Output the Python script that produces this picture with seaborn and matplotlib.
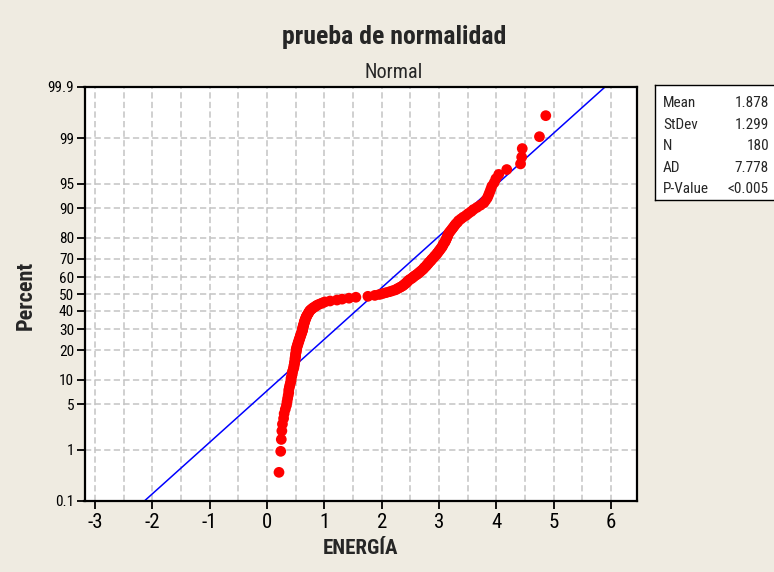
import math
import numpy as np
import pandas as pd
import matplotlib
matplotlib.use("Agg")
import matplotlib.pyplot as plt
from matplotlib import font_manager as fm
from matplotlib.ticker import FixedLocator, FixedFormatter, MultipleLocator
import seaborn as sns

# ENERGÍA sample, sorted (n = 180)
energia = [
    0.21, 0.24, 0.25, 0.26, 0.27, 0.29, 0.30, 0.32, 0.34, 0.35,
    0.36, 0.37, 0.38, 0.38, 0.39, 0.40, 0.41, 0.42, 0.42, 0.43,
    0.44, 0.44, 0.45, 0.46, 0.47, 0.47, 0.48, 0.48, 0.49, 0.49,
    0.49, 0.50, 0.50, 0.50, 0.51, 0.51, 0.51, 0.52, 0.52, 0.53,
    0.54, 0.54, 0.55, 0.56, 0.56, 0.57, 0.58, 0.58, 0.59, 0.60,
    0.60, 0.61, 0.62, 0.62, 0.62, 0.63, 0.63, 0.64, 0.64, 0.65,
    0.65, 0.66, 0.66, 0.67, 0.68, 0.68, 0.69, 0.70, 0.71, 0.72,
    0.73, 0.74, 0.75, 0.77, 0.79, 0.81, 0.84, 0.86, 0.89, 0.93,
    0.97, 1.01, 1.10, 1.22, 1.31, 1.43, 1.55, 1.76, 1.88, 1.96,
    2.02, 2.08, 2.14, 2.19, 2.24, 2.27, 2.30, 2.33, 2.36, 2.38,
    2.40, 2.42, 2.44, 2.45, 2.47, 2.49, 2.52, 2.54, 2.56, 2.58,
    2.61, 2.63, 2.65, 2.67, 2.69, 2.71, 2.73, 2.74, 2.76, 2.78,
    2.79, 2.81, 2.82, 2.84, 2.86, 2.87, 2.89, 2.91, 2.92, 2.94,
    2.96, 2.97, 2.99, 3.00, 3.02, 3.03, 3.05, 3.06, 3.07, 3.08,
    3.10, 3.11, 3.12, 3.13, 3.14, 3.15, 3.16, 3.17, 3.19, 3.21,
    3.23, 3.25, 3.27, 3.29, 3.32, 3.34, 3.38, 3.42, 3.47, 3.51,
    3.56, 3.60, 3.66, 3.72, 3.78, 3.81, 3.84, 3.86, 3.88, 3.90,
    3.92, 3.96, 3.99, 4.04, 4.18, 4.42, 4.44, 4.45, 4.75, 4.86,
]

# Fitted normal distribution and summary table
fit_mean = 1.878
fit_stdev = 1.299
stat_names = ["Mean", "StDev", "N", "AD", "P-Value"]
stat_values = ["1.878", "1.299", "180", "7.778", "<0.005"]

x_ticks = [-3, -2, -1, 0, 1, 2, 3, 4, 5, 6]
pct_ticks = [0.1, 1, 5, 10, 20, 30, 40, 50, 60, 70, 80, 90, 95, 99, 99.9]
pct_labels = ["0.1", "1", "5", "10", "20", "30", "40", "50", "60", "70",
              "80", "90", "95", "99", "99.9"]

title_text = "prueba de normalidad"
subtitle_text = "Normal"
x_label = "ENERGÍA"
y_label = "Percent"


# ---- normal probability scale -------------------------------------------
_A = [-3.969683028665376e+01, 2.209460984245205e+02, -2.759285104469687e+02,
      1.383577518672690e+02, -3.066479806614716e+01, 2.506628277459239e+00]
_B = [-5.447609879822406e+01, 1.615858368580409e+02, -1.556989798598866e+02,
      6.680131188771972e+01, -1.328068155288572e+01]
_C = [-7.784894002430293e-03, -3.223964580411365e-01, -2.400758277161838e+00,
      -2.549671010676193e+00, 4.374587699755227e+00, 2.938163982698783e+00]
_D = [7.784695709041462e-03, 3.224671290700398e-01, 2.445134137142996e+00,
      3.754408661907416e+00]


def _ppf(p):
    p = np.clip(np.asarray(p, dtype=float), 1e-12, 1 - 1e-12)
    out = np.empty_like(p)
    lo = p < 0.02425
    hi = p > 1 - 0.02425
    mid = ~(lo | hi)
    q = p[mid] - 0.5
    r = q * q
    out[mid] = ((((((_A[0] * r + _A[1]) * r + _A[2]) * r + _A[3]) * r + _A[4]) * r + _A[5]) * q /
                (((((_B[0] * r + _B[1]) * r + _B[2]) * r + _B[3]) * r + _B[4]) * r + 1))

    def tail(pp):
        q = np.sqrt(-2 * np.log(pp))
        return ((((((_C[0] * q + _C[1]) * q + _C[2]) * q + _C[3]) * q + _C[4]) * q + _C[5]) /
                ((((_D[0] * q + _D[1]) * q + _D[2]) * q + _D[3]) * q + 1))

    out[lo] = tail(p[lo])
    out[hi] = -tail(1 - p[hi])
    return out


_erf = np.frompyfunc(math.erf, 1, 1)


def pct_to_z(pct):
    return _ppf(np.asarray(pct, dtype=float) / 100.0)


def z_to_pct(z):
    z = np.asarray(z, dtype=float)
    return 50.0 * (1.0 + _erf(z / math.sqrt(2.0)).astype(float))


# ---- data table -----------------------------------------------------------
n = len(energia)
rank = np.arange(1, n + 1)
df = pd.DataFrame({"ENERGIA": energia,
                   "Percent": 100.0 * (rank - 0.3) / (n + 0.4)})

xs = np.linspace(-3.5, 6.5, 400)
fit = pd.DataFrame({"x": xs, "p": z_to_pct((xs - fit_mean) / fit_stdev)})

# ---- fonts ----------------------------------------------------------------
sns.set_theme(style="white")
names = {f.name for f in fm.fontManager.ttflist}
families = [f for f in ["Liberation Sans Narrow", "DejaVu Sans Condensed",
                        "Roboto Condensed", "DejaVu Sans"] if f in names]
if not families:
    families = ["DejaVu Sans"]
plt.rcParams["font.family"] = families
stretch = "condensed"
plt.rcParams["lines.scale_dashes"] = False

bg = "#EFEBE1"
W, H = 774, 572
fig = plt.figure(figsize=(W / 100, H / 100), dpi=100, facecolor=bg)

# plot area in pixel coordinates
L, R, T, B = 84.5, 637, 87, 501
ax = fig.add_axes([L / W, 1 - B / H, (R - L) / W, (B - T) / H])
ax.set_facecolor("white")
ax.set_yscale("function", functions=(pct_to_z, z_to_pct))

sns.lineplot(data=fit, x="x", y="p", ax=ax, color="#0000FF", linewidth=1.1,
             estimator=None, sort=False, zorder=2)
sns.scatterplot(data=df, x="ENERGIA", y="Percent", ax=ax, color="#FF0000",
                s=60, edgecolor="none", linewidth=0, zorder=3)

ax.set_xlim(-3.18, 6.45)
ax.set_ylim(0.1, 99.9)
ax.xaxis.set_major_locator(FixedLocator(x_ticks))
ax.xaxis.set_minor_locator(MultipleLocator(0.5))
ax.yaxis.set_major_locator(FixedLocator(pct_ticks))
ax.yaxis.set_major_formatter(FixedFormatter(pct_labels))
ax.yaxis.set_minor_locator(FixedLocator([]))
ax.set_xticklabels([str(v) for v in x_ticks])

ax.set_axisbelow(True)
dash = (0, (4.5, 2.4))
ax.grid(which="both", axis="x", color="#C4C4C4", linewidth=1.1, linestyle=dash)
ax.grid(which="major", axis="y", color="#C4C4C4", linewidth=1.1, linestyle=dash)

ax.tick_params(axis="x", which="major", direction="out", length=6, width=1.3,
               color="black", labelsize=15, pad=3, bottom=True)
ax.tick_params(axis="x", which="minor", length=0)
ax.tick_params(axis="y", which="major", direction="out", length=6, width=1.3,
               color="black", labelsize=11, pad=1.5, left=True)
for lab in ax.get_xticklabels() + ax.get_yticklabels():
    lab.set_fontstretch(stretch)
    lab.set_color("black")

for s in ax.spines.values():
    s.set_color("black")
    s.set_linewidth(1.6)

ax.set_xlabel("")
ax.set_ylabel("")

fig.text(394 / W, 1 - 37 / H, title_text, ha="center", va="center",
         fontsize=18.5, fontweight="bold", fontstretch=stretch)
fig.text(394 / W, 1 - 72 / H, subtitle_text, ha="center", va="center",
         fontsize=14.5, fontstretch=stretch)
fig.text(360 / W, 1 - 549 / H, x_label, ha="center", va="center",
         fontsize=15, fontweight="bold", fontstretch=stretch)
fig.text(25.5 / W, 1 - 295 / H, y_label, ha="center", va="center",
         rotation=90, fontsize=16, fontweight="bold", fontstretch=stretch)

# summary table box
bx0, by0, bx1, by1 = 655, 85, 800, 200
box = fig.add_axes([bx0 / W, 1 - by1 / H, (bx1 - bx0) / W, (by1 - by0) / H])
box.set_facecolor("white")
box.set_xticks([])
box.set_yticks([])
for s in box.spines.values():
    s.set_color("black")
    s.set_linewidth(1.0)
row_y = [103, 124.5, 146, 167.5, 189]
for name, val, yy in zip(stat_names, stat_values, row_y):
    fig.text(663 / W, 1 - yy / H, name, ha="left", va="center",
             fontsize=11, fontstretch=stretch)
    fig.text(769 / W, 1 - yy / H, val, ha="right", va="center",
             fontsize=11, fontstretch=stretch)

fig.savefig("out.png", dpi=100, facecolor=bg)
